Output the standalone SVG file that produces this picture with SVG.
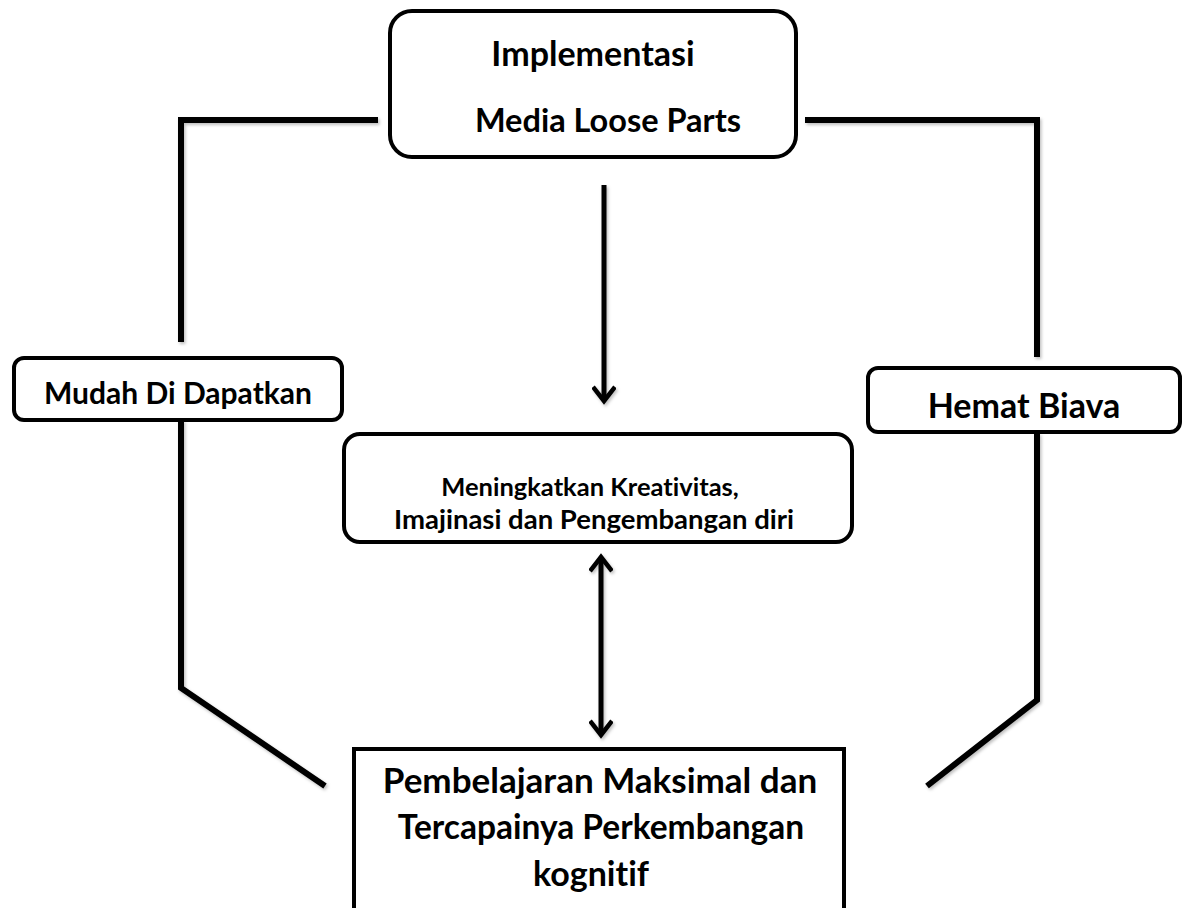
<svg xmlns="http://www.w3.org/2000/svg" width="1184" height="908" viewBox="0 0 1184 908">
<defs>
<filter id="sh" x="-20%" y="-20%" width="140%" height="140%">
<feDropShadow dx="1.5" dy="2" stdDeviation="1.5" flood-color="#000" flood-opacity="0.25"/>
</filter>
<marker id="ah" viewBox="0 0 24 24" markerWidth="24" markerHeight="24" refX="20" refY="12" orient="auto-start-reverse" markerUnits="userSpaceOnUse">
<path d="M6 1 L20 12 L6 23" fill="none" stroke="#000" stroke-width="4.5" stroke-linecap="butt"/>
</marker>
<clipPath id="cMudah"><rect x="14" y="358" width="328" height="53"/></clipPath>
<clipPath id="cHemat"><rect x="868" y="368" width="312" height="56"/></clipPath>
<clipPath id="cMid"><rect x="344" y="434" width="508" height="101"/></clipPath>
<style>
.box{fill:#fff;stroke:#000;stroke-width:4}
.ln{fill:none;stroke:#000;stroke-width:6;stroke-linejoin:miter}
.ar{fill:none;stroke:#000;stroke-width:5}
.t{font-family:Lato,"Open Sans","Liberation Sans",sans-serif;font-weight:bold;fill:#000;text-anchor:middle;font-variant-ligatures:none;font-feature-settings:"liga" 0,"clig" 0}
</style>
</defs>
<rect width="1184" height="908" fill="#fff"/>
<g id="connectors" filter="url(#sh)">
<path class="ln" d="M378 120 H181 V342"/>
<path class="ln" d="M181 420 V688 L325 786"/>
<path class="ln" d="M805 120 H1037 V357"/>
<path class="ln" d="M1037 433 V700 L927 786"/>
<line class="ar" x1="604" y1="185" x2="604" y2="401" marker-end="url(#ah)"/>
<line class="ar" x1="601" y1="557" x2="601" y2="735" marker-start="url(#ah)" marker-end="url(#ah)"/>
</g>
<g id="node-top">
<rect class="box" x="390" y="11" width="406" height="146" rx="22"/>
<text class="t" x="593" y="66" font-size="34">Implementasi</text>
<text class="t" x="608" y="132" font-size="32.5">Media Loose Parts</text>
</g>
<g id="node-mudah">
<rect class="box" x="14" y="358" width="328" height="62" rx="10"/>
<text class="t" x="178" y="404" font-size="30" clip-path="url(#cMudah)">Mudah Di Dapatkan</text>
</g>
<g id="node-hemat">
<rect class="box" x="868" y="368" width="312" height="64" rx="10"/>
<text class="t" x="1024" y="418" font-size="34" clip-path="url(#cHemat)">Hemat Biava</text>
</g>
<g id="node-mid">
<rect class="box" x="344" y="434" width="508" height="108" rx="16"/>
<text class="t" x="590" y="496" font-size="25.5">Meningkatkan Kreativitas,</text>
<text class="t" x="594" y="529" font-size="27.5" clip-path="url(#cMid)">Imajinasi dan Pengembangan diri</text>
</g>
<g id="node-bottom">
<rect class="box" x="354" y="749" width="490" height="175" rx="0"/>
<text class="t" x="600" y="793" font-size="35">Pembelajaran Maksimal dan</text>
<text class="t" x="601" y="839" font-size="33.5">Tercapainya Perkembangan</text>
<text class="t" x="591" y="886" font-size="34">kognitif</text>
</g>
</svg>
